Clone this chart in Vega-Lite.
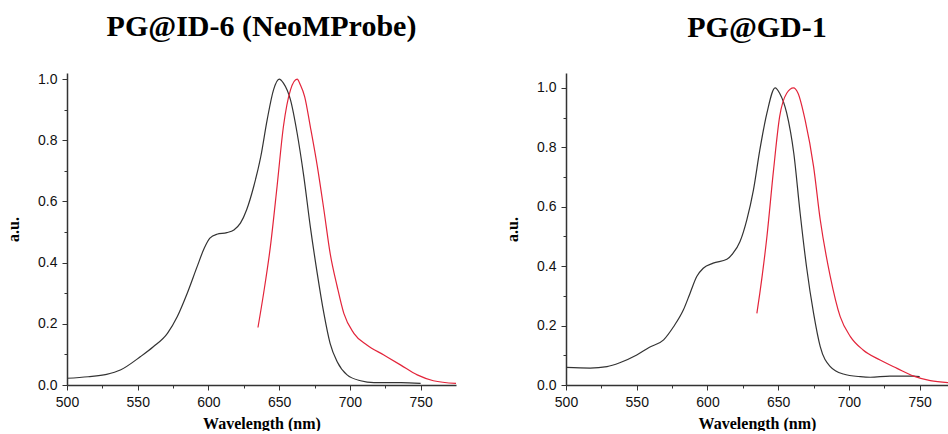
{
  "$schema": "https://vega.github.io/schema/vega-lite/v6.json",
  "background": "white",
  "padding": {"left": 5, "top": 12, "right": 0, "bottom": 0},
  "datasets": {
    "left": [
      {"series": "abs", "wl": 500, "au": 0.022},
      {"series": "abs", "wl": 515, "au": 0.027},
      {"series": "abs", "wl": 528, "au": 0.035},
      {"series": "abs", "wl": 537.7, "au": 0.049},
      {"series": "abs", "wl": 552, "au": 0.093},
      {"series": "abs", "wl": 561, "au": 0.125},
      {"series": "abs", "wl": 571, "au": 0.169},
      {"series": "abs", "wl": 578, "au": 0.224},
      {"series": "abs", "wl": 585, "au": 0.30},
      {"series": "abs", "wl": 592, "au": 0.387},
      {"series": "abs", "wl": 597, "au": 0.447},
      {"series": "abs", "wl": 601, "au": 0.48},
      {"series": "abs", "wl": 606, "au": 0.493},
      {"series": "abs", "wl": 613, "au": 0.498},
      {"series": "abs", "wl": 618, "au": 0.507},
      {"series": "abs", "wl": 622.6, "au": 0.529},
      {"series": "abs", "wl": 627, "au": 0.573},
      {"series": "abs", "wl": 632, "au": 0.649},
      {"series": "abs", "wl": 637, "au": 0.747},
      {"series": "abs", "wl": 641.5, "au": 0.867},
      {"series": "abs", "wl": 646, "au": 0.965},
      {"series": "abs", "wl": 650, "au": 1.0},
      {"series": "abs", "wl": 653, "au": 0.987},
      {"series": "abs", "wl": 658, "au": 0.932},
      {"series": "abs", "wl": 662.7, "au": 0.823},
      {"series": "abs", "wl": 667.4, "au": 0.682},
      {"series": "abs", "wl": 672, "au": 0.518},
      {"series": "abs", "wl": 676.9, "au": 0.365},
      {"series": "abs", "wl": 681.6, "au": 0.234},
      {"series": "abs", "wl": 686, "au": 0.136},
      {"series": "abs", "wl": 691, "au": 0.076},
      {"series": "abs", "wl": 698, "au": 0.033},
      {"series": "abs", "wl": 707.5, "au": 0.014},
      {"series": "abs", "wl": 717, "au": 0.008},
      {"series": "abs", "wl": 736, "au": 0.008},
      {"series": "abs", "wl": 750, "au": 0.005},
      {"series": "em", "wl": 635, "au": 0.188},
      {"series": "em", "wl": 639, "au": 0.30},
      {"series": "em", "wl": 643.8, "au": 0.453},
      {"series": "em", "wl": 648.5, "au": 0.649},
      {"series": "em", "wl": 653, "au": 0.845},
      {"series": "em", "wl": 658, "au": 0.965},
      {"series": "em", "wl": 662.7, "au": 1.0},
      {"series": "em", "wl": 665, "au": 0.981},
      {"series": "em", "wl": 668, "au": 0.943},
      {"series": "em", "wl": 672, "au": 0.845},
      {"series": "em", "wl": 677, "au": 0.714},
      {"series": "em", "wl": 681.6, "au": 0.573},
      {"series": "em", "wl": 686, "au": 0.431},
      {"series": "em", "wl": 691, "au": 0.322},
      {"series": "em", "wl": 695.7, "au": 0.234},
      {"series": "em", "wl": 702.8, "au": 0.169},
      {"series": "em", "wl": 712, "au": 0.131},
      {"series": "em", "wl": 724, "au": 0.098},
      {"series": "em", "wl": 736, "au": 0.065},
      {"series": "em", "wl": 747.6, "au": 0.033},
      {"series": "em", "wl": 759, "au": 0.014},
      {"series": "em", "wl": 775, "au": 0.005}
    ],
    "right": [
      {"series": "abs", "wl": 500, "au": 0.059},
      {"series": "abs", "wl": 517, "au": 0.057},
      {"series": "abs", "wl": 529, "au": 0.062},
      {"series": "abs", "wl": 538, "au": 0.075},
      {"series": "abs", "wl": 550, "au": 0.101},
      {"series": "abs", "wl": 559, "au": 0.127},
      {"series": "abs", "wl": 569, "au": 0.152},
      {"series": "abs", "wl": 576, "au": 0.196},
      {"series": "abs", "wl": 583, "au": 0.253},
      {"series": "abs", "wl": 587.7, "au": 0.309},
      {"series": "abs", "wl": 592.4, "au": 0.365},
      {"series": "abs", "wl": 597, "au": 0.393},
      {"series": "abs", "wl": 604, "au": 0.41},
      {"series": "abs", "wl": 613.7, "au": 0.423},
      {"series": "abs", "wl": 618, "au": 0.443},
      {"series": "abs", "wl": 623, "au": 0.483},
      {"series": "abs", "wl": 627.8, "au": 0.556},
      {"series": "abs", "wl": 632.5, "au": 0.657},
      {"series": "abs", "wl": 637, "au": 0.791},
      {"series": "abs", "wl": 642, "au": 0.915},
      {"series": "abs", "wl": 647.8, "au": 1.0},
      {"series": "abs", "wl": 651, "au": 0.982},
      {"series": "abs", "wl": 656, "au": 0.915},
      {"series": "abs", "wl": 661, "au": 0.78},
      {"series": "abs", "wl": 665.5, "au": 0.578},
      {"series": "abs", "wl": 670, "au": 0.398},
      {"series": "abs", "wl": 675, "au": 0.241},
      {"series": "abs", "wl": 679.7, "au": 0.129},
      {"series": "abs", "wl": 686.8, "au": 0.062},
      {"series": "abs", "wl": 696, "au": 0.037},
      {"series": "abs", "wl": 708, "au": 0.028},
      {"series": "abs", "wl": 715, "au": 0.026},
      {"series": "abs", "wl": 729, "au": 0.030},
      {"series": "abs", "wl": 745.7, "au": 0.030},
      {"series": "abs", "wl": 750, "au": 0.028},
      {"series": "em", "wl": 634.9, "au": 0.241},
      {"series": "em", "wl": 637, "au": 0.309},
      {"series": "em", "wl": 642, "au": 0.499},
      {"series": "em", "wl": 646.7, "au": 0.724},
      {"series": "em", "wl": 651, "au": 0.903},
      {"series": "em", "wl": 656, "au": 0.982},
      {"series": "em", "wl": 660.8, "au": 1.0},
      {"series": "em", "wl": 664, "au": 0.982},
      {"series": "em", "wl": 669, "au": 0.892},
      {"series": "em", "wl": 675, "au": 0.735},
      {"series": "em", "wl": 679.7, "au": 0.556},
      {"series": "em", "wl": 686.8, "au": 0.365},
      {"series": "em", "wl": 693.8, "au": 0.23},
      {"series": "em", "wl": 701, "au": 0.163},
      {"series": "em", "wl": 710, "au": 0.118},
      {"series": "em", "wl": 722, "au": 0.084},
      {"series": "em", "wl": 734, "au": 0.056},
      {"series": "em", "wl": 745.7, "au": 0.030},
      {"series": "em", "wl": 757.5, "au": 0.015},
      {"series": "em", "wl": 770, "au": 0.008}
    ]
  },
  "config": {
    "view": {"stroke": null},
    "axis": {
      "grid": false,
      "domainColor": "#333333",
      "domainWidth": 1.5,
      "tickColor": "#333333",
      "tickWidth": 1,
      "labelFont": "Liberation Sans",
      "labelFontSize": 14,
      "labelColor": "#111111",
      "labelPadding": 5,
      "titleFont": "Liberation Serif",
      "titleFontSize": 16,
      "titleFontWeight": "bold",
      "titleColor": "#000000",
      "labelFlush": false,
      "labelOverlap": false
    },
    "title": {
      "font": "Liberation Serif",
      "fontSize": 30,
      "fontWeight": "bold",
      "color": "#000000",
      "anchor": "middle",
      "baseline": "alphabetic",
      "offset": 30
    },
    "line": {"strokeWidth": 1.2, "interpolate": "monotone"}
  },
  "hconcat": [
    {
      "title": "PG@ID-6 (NeoMProbe)",
      "width": 389,
      "height": 312,
      "data": {"name": "left"},
      "mark": {"type": "line", "clip": true},
      "encoding": {
        "x": {
          "field": "wl", "type": "quantitative",
          "scale": {"domain": [500, 775], "nice": false, "zero": false},
          "axis": {
            "title": "Wavelength (nm)",
            "titlePadding": 6,
            "values": [500, 525, 550, 575, 600, 625, 650, 675, 700, 725, 750],
            "labelExpr": "datum.value % 50 == 0 ? datum.label : ''",
            "tickSize": {"condition": {"test": "datum.value % 50 == 0", "value": 5}, "value": 3}
          }
        },
        "y": {
          "field": "au", "type": "quantitative",
          "scale": {"domain": [0, 1.02], "nice": false, "zero": false},
          "axis": {
            "title": "a.u.",
            "titlePadding": 16,
            "values": [0, 0.1, 0.2, 0.3, 0.4, 0.5, 0.6, 0.7, 0.8, 0.9, 1.0],
            "labelExpr": "round(datum.value * 10) % 2 == 0 ? format(datum.value, '.1f') : ''",
            "tickSize": {"condition": {"test": "round(datum.value * 10) % 2 == 0", "value": 5}, "value": 3}
          }
        },
        "color": {
          "field": "series", "type": "nominal",
          "scale": {"domain": ["abs", "em"], "range": ["#333333", "#e3243a"]},
          "legend": null
        }
      }
    },
    {
      "title": "PG@GD-1",
      "width": 382,
      "height": 312,
      "data": {"name": "right"},
      "mark": {"type": "line", "clip": true},
      "encoding": {
        "x": {
          "field": "wl", "type": "quantitative",
          "scale": {"domain": [500, 770], "nice": false, "zero": false},
          "axis": {
            "title": "Wavelength (nm)",
            "titlePadding": 6,
            "values": [500, 525, 550, 575, 600, 625, 650, 675, 700, 725, 750],
            "labelExpr": "datum.value % 50 == 0 ? datum.label : ''",
            "tickSize": {"condition": {"test": "datum.value % 50 == 0", "value": 5}, "value": 3}
          }
        },
        "y": {
          "field": "au", "type": "quantitative",
          "scale": {"domain": [0, 1.05], "nice": false, "zero": false},
          "axis": {
            "title": "a.u.",
            "titlePadding": 16,
            "values": [0, 0.1, 0.2, 0.3, 0.4, 0.5, 0.6, 0.7, 0.8, 0.9, 1.0],
            "labelExpr": "round(datum.value * 10) % 2 == 0 ? format(datum.value, '.1f') : ''",
            "tickSize": {"condition": {"test": "round(datum.value * 10) % 2 == 0", "value": 5}, "value": 3}
          }
        },
        "color": {
          "field": "series", "type": "nominal",
          "scale": {"domain": ["abs", "em"], "range": ["#333333", "#e3243a"]},
          "legend": null
        }
      }
    }
  ],
  "spacing": 110,
  "bounds": "flush",
  "resolve": {"scale": {"x": "independent", "y": "independent", "color": "shared"}}
}
